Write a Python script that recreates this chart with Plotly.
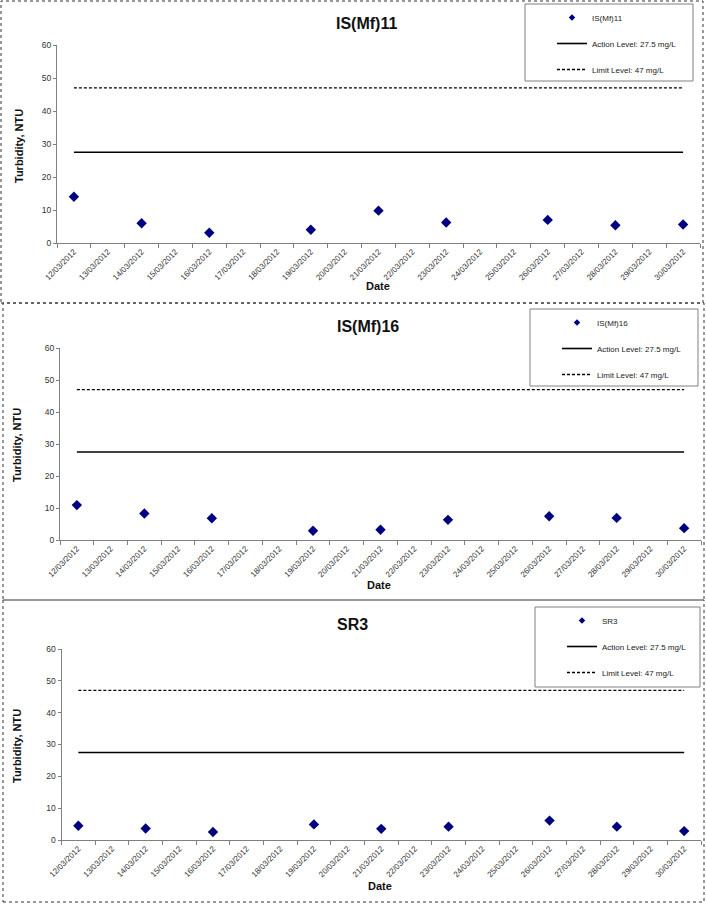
import plotly.graph_objects as go

# ---------------- data ----------------
dates = ["12/03/2012", "13/03/2012", "14/03/2012", "15/03/2012", "16/03/2012",
         "17/03/2012", "18/03/2012", "19/03/2012", "20/03/2012", "21/03/2012",
         "22/03/2012", "23/03/2012", "24/03/2012", "25/03/2012", "26/03/2012",
         "27/03/2012", "28/03/2012", "29/03/2012", "30/03/2012"]
sample_dates = ["12/03/2012", "14/03/2012", "16/03/2012", "19/03/2012", "21/03/2012",
                "23/03/2012", "26/03/2012", "28/03/2012", "30/03/2012"]
is_mf11 = [14.0, 6.0, 3.1, 4.0, 9.8, 6.2, 7.0, 5.4, 5.6]
is_mf16 = [10.9, 8.3, 6.8, 2.9, 3.2, 6.3, 7.4, 6.9, 3.7]
sr3 = [4.5, 3.6, 2.5, 4.9, 3.5, 4.2, 6.1, 4.2, 2.8]
station_names = ["IS(Mf)11", "IS(Mf)16", "SR3"]
action_level = 27.5
limit_level = 47
action_label = "Action Level: 27.5 mg/L"
limit_label = "Limit Level: 47 mg/L"
y_ticks = [0, 10, 20, 30, 40, 50, 60]

series = [is_mf11, is_mf16, sr3]

W, H = 706, 904
FONT = "Liberation Sans, Arial, sans-serif"
NAVY = "#000080"

def px(x):
    return x / W

def py(y):
    return 1 - y / H

# panel geometry (pixels)
panels = [
    dict(xd=(57, 700), yd=(45, 243), border=(1, 1, 703, 303), leg=(525, 4, 693, 81),
         title=(334, 22), ytitle=(19, 146), xtitle=(378, 286)),
    dict(xd=(60, 701), yd=(348, 540), border=(3, 303, 704, 600), leg=(530, 309, 698, 386),
         title=(335, 325), ytitle=(17, 445), xtitle=(379, 585)),
    dict(xd=(61.5, 701), yd=(649, 840), border=(3, 600, 704, 902), leg=(535, 607, 700, 687),
         title=(335, 623), ytitle=(17, 746), xtitle=(380, 886)),
]

fig = go.Figure()
shapes = []
annotations = []
layout = dict(
    width=W, height=H,
    margin=dict(l=0, r=0, t=0, b=0, pad=0, autoexpand=False),
    paper_bgcolor="white", plot_bgcolor="white",
    font=dict(family=FONT, color="#222"),
    showlegend=True,
)

for i, (p, vals, name) in enumerate(zip(panels, series, station_names)):
    n = "" if i == 0 else str(i + 1)
    xa, ya = "x" + n, "y" + n
    leg = "legend" + n
    # data markers (legend entry drawn by a smaller-symbol legend item below)
    fig.add_trace(go.Scatter(
        x=sample_dates, y=vals, mode="markers", name=name,
        marker=dict(symbol="diamond", size=8, color=NAVY),
        xaxis=xa, yaxis=ya, showlegend=False, legendgroup=f"a{i}"))
    fig.add_trace(go.Scatter(
        x=[None], y=[None], mode="markers", name=name,
        marker=dict(symbol="diamond", size=5, color=NAVY),
        xaxis=xa, yaxis=ya, legend=leg, legendgroup=f"a{i}", hoverinfo="skip"))
    fig.add_trace(go.Scatter(
        x=dates, y=[action_level] * len(dates), mode="lines", name=action_label,
        line=dict(color="black", width=1.6),
        xaxis=xa, yaxis=ya, legend=leg, legendgroup=f"b{i}"))
    fig.add_trace(go.Scatter(
        x=dates, y=[limit_level] * len(dates), mode="lines", name=limit_label,
        line=dict(color="black", width=1.4, dash="3px,2px"),
        xaxis=xa, yaxis=ya, legend=leg, legendgroup=f"c{i}"))

    layout["xaxis" + n] = dict(
        domain=[px(p["xd"][0]), px(p["xd"][1])], anchor=ya, type="category",
        categoryorder="array", categoryarray=dates, range=[-0.5, len(dates) - 0.5],
        showline=True, linecolor="#808080", linewidth=1, showgrid=False, zeroline=False,
        ticks="outside", ticklen=4, tickcolor="#808080", tickson="boundaries",
        tickangle=-45, tickfont=dict(size=8, color="#333", family=FONT),
        automargin=False, fixedrange=True)
    layout["yaxis" + n] = dict(
        domain=[py(p["yd"][1]), py(p["yd"][0])], anchor=xa, range=[0, 60],
        tickvals=y_ticks, showline=True, linecolor="#808080", linewidth=1,
        showgrid=False, zeroline=False, ticks="outside", ticklen=3, tickcolor="#808080",
        tickfont=dict(size=8.5, color="#333", family=FONT), automargin=False,
        fixedrange=True)

    bx0, by0, bx1, by1 = p["border"]
    shapes.append(dict(type="rect", xref="paper", yref="paper",
                       x0=px(bx0), x1=px(bx1), y0=py(by1), y1=py(by0),
                       line=dict(color="#333", width=1, dash="dot"), layer="below"))
    lx0, ly0, lx1, ly1 = p["leg"]
    shapes.append(dict(type="rect", xref="paper", yref="paper",
                       x0=px(lx0), x1=px(lx1), y0=py(ly1), y1=py(ly0),
                       line=dict(color="#808080", width=1), fillcolor="white", layer="below"))
    layout[leg] = dict(
        x=px(lx0 + 27), y=py(ly0 - 1), xanchor="left", yanchor="top",
        bgcolor="rgba(0,0,0,0)", borderwidth=0, tracegroupgap=7,
        font=dict(size=8, color="#222", family=FONT), itemwidth=30)

    tx, ty = p["title"]
    annotations.append(dict(text="<b>" + name + "</b>", xref="paper", yref="paper",
                            x=px(tx), y=py(ty + 1), xanchor="left", yanchor="middle",
                            showarrow=False, font=dict(size=16, color="#111", family=FONT)))
    yx, yy = p["ytitle"]
    annotations.append(dict(text="<b>Turbidity, NTU</b>", xref="paper", yref="paper",
                            x=px(yx), y=py(yy), xanchor="center", yanchor="middle",
                            textangle=-90, showarrow=False,
                            font=dict(size=11, color="#111", family=FONT)))
    dx, dy = p["xtitle"]
    annotations.append(dict(text="<b>Date</b>", xref="paper", yref="paper",
                            x=px(dx), y=py(dy), xanchor="center", yanchor="middle",
                            showarrow=False, font=dict(size=11, color="#111", family=FONT)))

layout["shapes"] = shapes
layout["annotations"] = annotations
fig.update_layout(**layout)

fig.write_html(
    "out.html",
    config={"displayModeBar": False},
    post_script="document.body.style.margin='0';document.body.style.padding='0';"
                "document.documentElement.style.overflow='hidden';",
)
